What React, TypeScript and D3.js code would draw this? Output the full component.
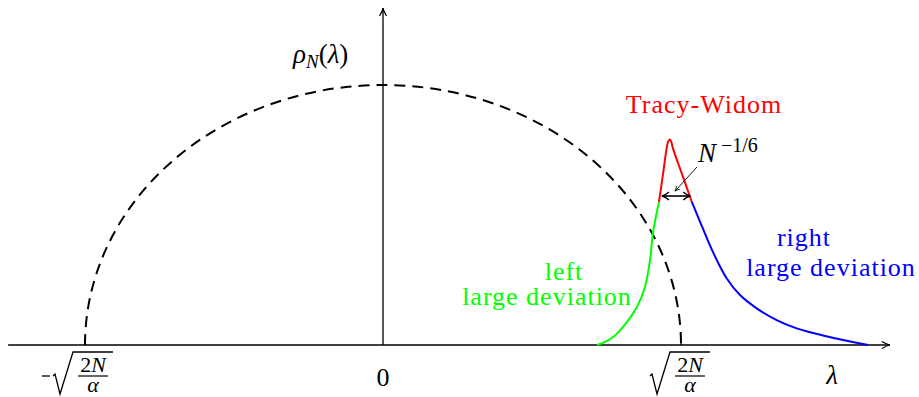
import React from 'react'
import * as d3 from 'd3'

// lambda is in units of sqrt(2N/alpha), rho in units of the semicircle peak
const leftLambda = [0.718, 0.728, 0.768, 0.805, 0.852, 0.879, 0.896, 0.906, 0.926]
const leftRho = [0, 0.004, 0.027, 0.069, 0.146, 0.223, 0.327, 0.431, 0.55]

const twLambda = [0.926, 0.940, 0.952, 0.957, 0.962, 0.967, 0.972, 1.004, 1.036]
const twRho = [0.55, 0.66, 0.758, 0.782, 0.79, 0.783, 0.76, 0.655, 0.551]

const rightLambda = [1.036, 1.064, 1.092, 1.120, 1.153, 1.198, 1.254, 1.321, 1.388, 1.433, 1.544, 1.628]
const rightRho = [0.551, 0.474, 0.397, 0.327, 0.257, 0.192, 0.141, 0.096, 0.064, 0.049, 0.019, 0]

const axisLambda = [-1.258, 1.701]
const axisRhoTop = 1.296
const edgeTicks = [-1, 1]
const twWidth = [0.936, 1.031]
const twWidthRho = 0.573

const width = 919
const height = 397

const serif = { fontFamily: 'Liberation Serif' }

function zip (xs: number[], ys: number[]): [number, number][] {
  return xs.map((x, i) => [x, ys[i]])
}

function Radical (props: { x: number, y: number }) {
  // sqrt(2N/alpha), overbar at y
  const { x, y } = props
  return (
    <g transform={'translate(' + x + ',' + y + ')'}>
      <path d='M0,24 L2,22 L7,42 L20,0 L60,0' fill='none' stroke='#000' strokeWidth={1.3} />
      <text x={40} y={20} textAnchor='middle' fontSize={22} style={serif}>
        2<tspan fontStyle='italic'>N</tspan>
      </text>
      <line x1={25} x2={55} y1={24} y2={24} stroke='#000' strokeWidth={1.2} />
      <text x={40} y={40} textAnchor='middle' fontSize={22} fontStyle='italic' style={serif}>α</text>
    </g>
  )
}

export default function App () {
  const x = d3.scaleLinear().domain([0, 1]).range([383, 681])
  const y = d3.scaleLinear().domain([0, 1]).range([345, 85])

  const line = d3.line<[number, number]>()
    .x(d => x(d[0]))
    .y(d => y(d[1]))
    .curve(d3.curveCatmullRom)

  const rx = x(1) - x(0)
  const ry = y(0) - y(1)
  const semicircle = 'M' + x(-1) + ',' + y(0) + ' A' + rx + ',' + ry + ' 0 0 1 ' + x(1) + ',' + y(0)

  const label = { fontFamily: 'Liberation Serif', letterSpacing: 1 }

  return (
    <svg width={width} height={height} style={{ position: 'absolute', left: 0, top: 0, background: '#fff' }}>
      <defs>
        <marker id='axisArrow' viewBox='-10 -5 12 10' refX={0} refY={0} markerWidth={12} markerHeight={10}
          markerUnits='userSpaceOnUse' orient='auto'>
          <path d='M-8,-3.5 Q-3,-0.5 0,0 Q-3,0.5 -8,3.5' fill='none' stroke='#000' strokeWidth={1.2} />
        </marker>
        <marker id='chev' viewBox='-10 -5 12 10' refX={0} refY={0} markerWidth={12} markerHeight={10}
          markerUnits='userSpaceOnUse' orient='auto-start-reverse'>
          <path d='M-7,-4 Q-3,-0.5 0,0 Q-3,0.5 -7,4' fill='none' stroke='#000' strokeWidth={1.4} />
        </marker>
        <marker id='small' viewBox='-10 -5 12 10' refX={0} refY={0} markerWidth={10} markerHeight={8}
          markerUnits='userSpaceOnUse' orient='auto'>
          <path d='M-6,-3 Q-2.5,-0.4 0,0 Q-2.5,0.4 -6,3' fill='none' stroke='#000' strokeWidth={1} />
        </marker>
      </defs>

      {/* semicircle */}
      <path d={semicircle} fill='none' stroke='#000' strokeWidth={2} strokeDasharray='11 7' />

      {/* axes */}
      <line x1={x(axisLambda[0])} x2={x(axisLambda[1])} y1={y(0)} y2={y(0)} stroke='#000' strokeWidth={1.3}
        markerEnd='url(#axisArrow)' />
      <line x1={x(0)} x2={x(0)} y1={y(0)} y2={y(axisRhoTop)} stroke='#000' strokeWidth={1.3}
        markerEnd='url(#axisArrow)' />
      {edgeTicks.map(t => (
        <line key={t} x1={x(t)} x2={x(t)} y1={y(0)} y2={y(0) - 7} stroke='#000' strokeWidth={1.3} />
      ))}

      {/* curves */}
      <path d={line(zip(leftLambda, leftRho)) || ''} fill='none' stroke='#00ff00' strokeWidth={2} />
      <path d={line(zip(twLambda, twRho)) || ''} fill='none' stroke='#ff0000' strokeWidth={2} />
      <path d={line(zip(rightLambda, rightRho)) || ''} fill='none' stroke='#0000ff' strokeWidth={2} />

      {/* N^{-1/6} width */}
      <line x1={x(twWidth[0])} x2={x(twWidth[1])} y1={y(twWidthRho)} y2={y(twWidthRho)} stroke='#000'
        strokeWidth={1.6} markerStart='url(#chev)' markerEnd='url(#chev)' />
      <line x1={x(1.054)} y1={y(0.685)} x2={x(0.980)} y2={y(0.592)} stroke='#000' strokeWidth={0.9}
        markerEnd='url(#small)' />
      <text x={698} y={162} fontSize={27} fontStyle='italic' style={serif}>N</text>
      <text x={721} y={152} fontSize={20} style={serif}>−1/6</text>

      {/* labels */}
      <text x={293} y={63} fontSize={27} style={serif}>
        <tspan fontStyle='italic'>ρ</tspan>
        <tspan fontStyle='italic' fontSize={19} dy={5}>N</tspan>
        <tspan dy={-5}>(</tspan>
        <tspan fontStyle='italic'>λ</tspan>
        <tspan>)</tspan>
      </text>
      <text x={704} y={113} textAnchor='middle' fill='#ff0000' fontSize={26} style={label}>Tracy-Widom</text>
      <text x={564} y={280} textAnchor='middle' fill='#00ff00' fontSize={26} style={label}>left</text>
      <text x={547} y={305} textAnchor='middle' fill='#00ff00' fontSize={26} style={label}>large deviation</text>
      <text x={804} y={246} textAnchor='middle' fill='#0000ff' fontSize={26} style={label}>right</text>
      <text x={831} y={276} textAnchor='middle' fill='#0000ff' fontSize={26} style={label}>large deviation</text>

      {/* x tick labels */}
      <text x={x(0)} y={386} textAnchor='middle' fontSize={26} style={serif}>0</text>
      <text x={832} y={384} textAnchor='middle' fontSize={27} fontStyle='italic' style={serif}>λ</text>
      <line x1={x(-1) - 43} x2={x(-1) - 35} y1={376} y2={376} stroke='#000' strokeWidth={1.3} />
      <Radical x={x(-1) - 32} y={352} />
      <Radical x={x(1) - 31} y={352} />
    </svg>
  )
}
